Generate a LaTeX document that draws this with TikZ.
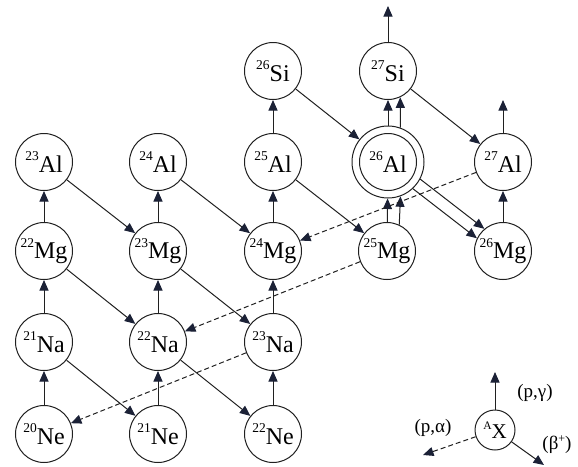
\documentclass[tikz,border=0pt]{standalone}
\usepackage{fontspec}
\setmainfont{Liberation Serif}
\usetikzlibrary{arrows.meta}
\definecolor{ln}{HTML}{202020}
\definecolor{tipc}{HTML}{1B2136}
\newcommand{\iso}[2]{\raisebox{11.5pt}{\fontsize{13.5}{13.5}\selectfont #1}#2}
\begin{document}
\begin{tikzpicture}[x=1pt,y=-1pt,
  nuc/.style={circle,draw=ln,line width=1pt,minimum size=57pt,inner sep=0pt,font=\fontsize{24}{24}\selectfont},
  arr/.style={draw=ln,line width=1pt,-{Triangle[length=10.5pt,width=9pt,color=tipc]}},
  pa/.style={arr,dash pattern=on 5pt off 3pt},
  lab/.style={inner sep=0pt,font=\fontsize{19}{19}\selectfont}]
\useasboundingbox (0,0) rectangle (578,466);
% nuclei
\node[nuc] (Ne20) at (44,434) {\iso{20}{Ne}};
\node[nuc] (Ne21) at (158,434) {\iso{21}{Ne}};
\node[nuc] (Ne22) at (273,434) {\iso{22}{Ne}};
\node[nuc] (Na21) at (44,342) {\iso{21}{Na}};
\node[nuc] (Na22) at (158,342) {\iso{22}{Na}};
\node[nuc] (Na23) at (273,342) {\iso{23}{Na}};
\node[nuc] (Mg22) at (44,251) {\iso{22}{Mg}};
\node[nuc] (Mg23) at (158,251) {\iso{23}{Mg}};
\node[nuc] (Mg24) at (273,251) {\iso{24}{Mg}};
\node[nuc] (Mg25) at (387,251) {\iso{25}{Mg}};
\node[nuc] (Mg26) at (503,251) {\iso{26}{Mg}};
\node[nuc] (Al23) at (44,162) {\iso{23}{Al}};
\node[nuc] (Al24) at (158,162) {\iso{24}{Al}};
\node[nuc] (Al25) at (273,162) {\iso{25}{Al}};
\node[nuc] (Al26) at (388,162) {\iso{26}{Al}};
\node[circle,draw=ln,line width=1pt,minimum size=72pt,inner sep=0pt] (Al26o) at (388,162) {};
\node[nuc] (Al27) at (503,162) {\iso{27}{Al}};
\node[nuc] (Si26) at (273,71) {\iso{26}{Si}};
\node[nuc] (Si27) at (388,71) {\iso{27}{Si}};
\coordinate (topSi) at (388,6);
\coordinate (topAl) at (503,100);
% (p,gamma)
\draw[arr] (Ne20) -- (Na21);
\draw[arr] (Na21) -- (Mg22);
\draw[arr] (Mg22) -- (Al23);
\draw[arr] (Ne21) -- (Na22);
\draw[arr] (Na22) -- (Mg23);
\draw[arr] (Mg23) -- (Al24);
\draw[arr] (Ne22) -- (Na23);
\draw[arr] (Na23) -- (Mg24);
\draw[arr] (Mg24) -- (Al25);
\draw[arr] (Al25) -- (Si26);
\draw[arr] (Mg25) -- (Al26o);
\draw[arr] (Mg25.65) -- (Al26o.-70.5);
\draw[arr] (Al26o) -- (Si27);
\draw[arr] (Al26o.70.5) -- (Si27.-65);
\draw[arr] (Si27) -- (topSi);
\draw[arr] (Mg26) -- (Al27);
\draw[arr] (Al27) -- (topAl);
% beta+
\draw[arr] (Al23) -- (Mg23);
\draw[arr] (Al24) -- (Mg24);
\draw[arr] (Al25) -- (Mg25);
\draw[arr] (Si26) -- (Al26o);
\draw[arr] (Si27) -- (Al27);
\draw[arr] (Al26o.-28.1) -- (Mg26.130.1);
\draw[arr] (Al26o.-47.3) -- (Mg26.154.5);
\draw[arr] (Mg22) -- (Na22);
\draw[arr] (Mg23) -- (Na23);
\draw[arr] (Na21) -- (Ne21);
\draw[arr] (Na22) -- (Ne22);
% (p,alpha)
\draw[pa] (Al27) -- (Mg24);
\draw[pa] (Mg25) -- (Na22);
\draw[pa] (Na23) -- (Ne20);
% legend
\node[circle,draw=ln,line width=1pt,minimum size=40pt,inner sep=0pt,font=\fontsize{21}{21}\selectfont] (X) at (495,430) {\raisebox{8.5pt}{\fontsize{11.5}{11.5}\selectfont A}X};
\coordinate (pgc) at (495,372);
\coordinate (pac) at (423,455);
\coordinate (bc) at (544,465);
\draw[arr] (X) -- (pgc);
\draw[pa] (X) -- (pac);
\draw[arr] (X) -- (bc);
\node[lab] (lpg) at (535,393) {(p,γ)};
\node[lab] (lpa) at (433,428) {(p,α)};
\node[lab] (lb) at (557,445) {(β\raisebox{7pt}{\fontsize{12}{12}\selectfont +})};
\end{tikzpicture}
\end{document}
